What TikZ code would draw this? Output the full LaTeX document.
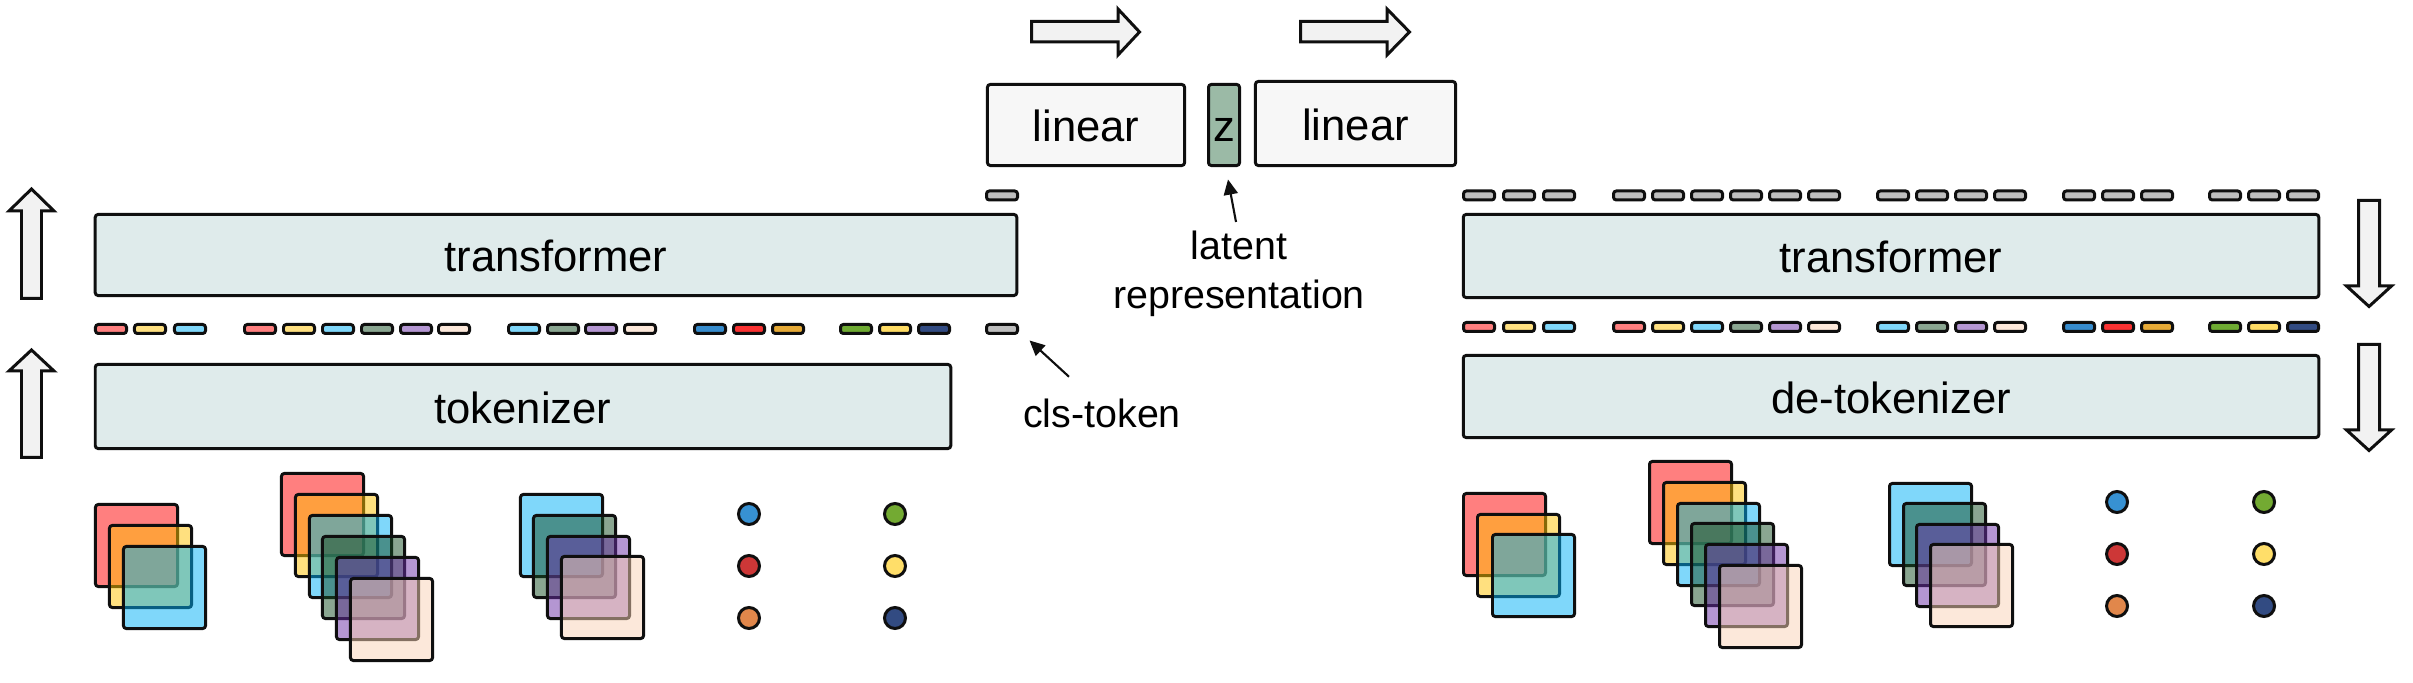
\documentclass[tikz,border=0pt]{standalone}
\usepackage{fontspec}
\setmainfont{Liberation Sans}
\usetikzlibrary{arrows.meta}
\definecolor{boxfill}{RGB}{223,235,235}
\definecolor{linfill}{RGB}{247,247,247}
\definecolor{arrfill}{RGB}{242,242,242}
\definecolor{zfill}{RGB}{155,186,166}
\definecolor{tGray}{RGB}{190,190,190}
\definecolor{tRed}{RGB}{255,127,127}
\definecolor{tYel}{RGB}{255,224,128}
\definecolor{tBlu}{RGB}{127,215,250}
\definecolor{tGrn}{RGB}{138,166,145}
\definecolor{tPur}{RGB}{180,150,210}
\definecolor{tPch}{RGB}{252,232,218}
\definecolor{tBlueB}{RGB}{55,140,205}
\definecolor{tRedB}{RGB}{250,50,50}
\definecolor{tOraB}{RGB}{230,170,55}
\definecolor{tGreenB}{RGB}{110,170,50}
\definecolor{tYelB}{RGB}{255,220,100}
\definecolor{tNavy}{RGB}{50,75,130}
\definecolor{cBlu}{RGB}{55,145,210}
\definecolor{cRed}{RGB}{205,55,55}
\definecolor{cOra}{RGB}{225,135,75}
\definecolor{cGrn}{RGB}{115,170,50}
\definecolor{cYel}{RGB}{255,222,105}
\definecolor{cNavy}{RGB}{50,75,130}
\definecolor{sRed}{RGB}{255,0,0}
\definecolor{sYel}{RGB}{255,193,0}
\definecolor{sBlu}{RGB}{0,175,245}
\definecolor{sGrn}{RGB}{21,77,35}
\definecolor{sPur}{RGB}{105,45,165}
\definecolor{sPch}{RGB}{249,209,181}
\definecolor{ink}{RGB}{15,15,15}
\begin{document}
\begin{tikzpicture}[x=0.01cm,y=-0.01cm,
  bigbox/.style={draw=ink,line width=0.85pt,rounded corners=0.8pt,fill=boxfill,
    inner sep=0pt,font=\fontsize{12.4}{14}\selectfont,text height=9.6pt,text depth=0pt},
  linbox/.style={bigbox,fill=linfill},
  tok/.style={draw=ink,line width=0.85pt,rounded corners=0.8pt,inner sep=0pt,
    minimum width=0.31cm,minimum height=0.09cm},
  sq/.style={draw=ink,line width=0.85pt,rounded corners=0.8pt,inner sep=0pt,
    minimum size=0.82cm,fill opacity=0.5},
  dot/.style={circle,draw=ink,line width=0.85pt,inner sep=0pt,minimum size=0.21cm},
  fatarrow/.style={draw=ink,line width=0.85pt,fill=arrfill,line join=miter},
  lab/.style={inner sep=0pt,font=\fontsize{11.2}{13.9}\selectfont,align=center},
  annot/.style={draw=ink,line width=0.6pt,-{Triangle[length=4.3pt,width=4pt]}}]
\useasboundingbox (0,0) rectangle (2413,683);

% ---------- big boxes ----------
\node[bigbox,minimum width=9.21cm,minimum height=0.81cm] (transL) at (556,255) {transformer};
\node[bigbox,minimum width=8.55cm,minimum height=0.84cm] (tokL) at (523,406.5) {tokenizer};
\node[linbox,minimum width=1.97cm,minimum height=0.81cm] (lin1) at (1086,125) {linear};
\node[bigbox,fill=zfill,minimum width=0.31cm,minimum height=0.81cm] (zbox) at (1224,125) {z};
\node[linbox,minimum width=2.00cm,minimum height=0.84cm] (lin2) at (1355.5,123.5) {linear};
\node[bigbox,minimum width=8.55cm,minimum height=0.83cm] (transR) at (1891,256) {transformer};
\node[bigbox,minimum width=8.55cm,minimum height=0.82cm] (detokR) at (1891,396.5) {de-tokenizer};

% ---------- fat arrows ----------
\draw[fatarrow] (21.5,298.5) -- (21.5,211) -- (9,211) -- (31.5,189) -- (54,211) -- (41.5,211) -- (41.5,298.5) -- cycle;
\draw[fatarrow] (21.5,457.5) -- (21.5,371) -- (9,371) -- (31.5,350) -- (54,371) -- (41.5,371) -- (41.5,457.5) -- cycle;
\draw[fatarrow] (1031.5,21.5) -- (1118,21.5) -- (1118,9) -- (1139.5,32) -- (1118,55) -- (1118,42) -- (1031.5,42) -- cycle;
\draw[fatarrow] (1300.5,21.5) -- (1387,21.5) -- (1387,9) -- (1409.5,32) -- (1387,55) -- (1387,42) -- (1300.5,42) -- cycle;
\draw[fatarrow] (2358.5,200.5) -- (2379.5,200.5) -- (2379.5,286) -- (2391.5,286) -- (2369,306.5) -- (2346.5,286) -- (2358.5,286) -- cycle;
\draw[fatarrow] (2358.5,344.5) -- (2379.5,344.5) -- (2379.5,430) -- (2391.5,430) -- (2369,450.5) -- (2346.5,430) -- (2358.5,430) -- cycle;

% ---------- tokens, left ----------
\foreach \x/\c [count=\i] in {94/tRed,133/tYel,173/tBlu,
  243/tRed,282/tYel,321/tBlu,360/tGrn,399/tPur,437/tPch,
  507/tBlu,546/tGrn,584/tPur,623/tPch,
  693/tBlueB,732/tRedB,771/tOraB,
  839/tGreenB,878/tYelB,917/tNavy}
  \node[tok,fill=\c] (la\i) at ({\x+17},329) {};
\node[tok,fill=tGray] (clstok) at (1002,329) {};
\node[tok,fill=tGray] (clsout) at (1002,195.5) {};

% ---------- tokens, right ----------
\foreach \x/\c [count=\i] in {1462/tRed,1502/tYel,1542/tBlu,
  1612/tRed,1651/tYel,1690/tBlu,1729/tGrn,1768/tPur,1807/tPch,
  1876/tBlu,1915/tGrn,1954/tPur,1993/tPch,
  2062/tBlueB,2101/tRedB,2140/tOraB,
  2208/tGreenB,2247/tYelB,2286/tNavy}
  {\node[tok,fill=tGray] (rg\i) at ({\x+17},195.5) {};
   \node[tok,fill=\c] (rc\i) at ({\x+17},327) {};}

% ---------- labels and pointers ----------
\node[lab,anchor=base] (clslab) at (1102,428) {cls-token};
\node[lab,anchor=north] (latlab) at (1239,230) {latent\\representation};
\draw[annot] ([shift={(-33,-22)}]clslab.north) -- ([shift={(10.5,5.5)}]clstok.south east);
\draw[annot] ([shift={(-3,-8)}]latlab.north) -- ([shift={(4,12.5)}]zbox.south);

% ---------- image stacks, left ----------
\foreach \x/\y/\c [count=\i] in {94/503/sRed,108/524/sYel,122/545/sBlu}
  \node[sq,fill=\c] (pa\i) at ({\x+42.5},{\y+42.5}) {};
\foreach \x/\y/\c [count=\i] in {280/472/sRed,294/493/sYel,308/514/sBlu,321/535/sGrn,335/556/sPur,349/577/sPch}
  \node[sq,fill=\c] (pb\i) at ({\x+42.5},{\y+42.5}) {};
\foreach \x/\y/\c [count=\i] in {519/493/sBlu,532/514/sGrn,546/535/sPur,560/555/sPch}
  \node[sq,fill=\c] (pc\i) at ({\x+42.5},{\y+42.5}) {};
\foreach \y/\c/\d [count=\i] in {514/cBlu/cGrn,566/cRed/cYel,618/cOra/cNavy}
  {\node[dot,fill=\c] (da\i) at (749,\y) {};
   \node[dot,fill=\d] (db\i) at (895,\y) {};}

% ---------- image stacks, right ----------
\foreach \x/\y/\c [count=\i] in {1462/492/sRed,1476/513/sYel,1491/533/sBlu}
  \node[sq,fill=\c] (qa\i) at ({\x+42.5},{\y+42.5}) {};
\foreach \x/\y/\c [count=\i] in {1648/460/sRed,1662/481/sYel,1676/502/sBlu,1690/522/sGrn,1704/543/sPur,1718/564/sPch}
  \node[sq,fill=\c] (qb\i) at ({\x+42.5},{\y+42.5}) {};
\foreach \x/\y/\c [count=\i] in {1888/482/sBlu,1902/502/sGrn,1915/523/sPur,1929/543/sPch}
  \node[sq,fill=\c] (qc\i) at ({\x+42.5},{\y+42.5}) {};
\foreach \y/\c/\d [count=\i] in {502/cBlu/cGrn,554/cRed/cYel,606/cOra/cNavy}
  {\node[dot,fill=\c] (ea\i) at (2117,\y) {};
   \node[dot,fill=\d] (eb\i) at (2264,\y) {};}
\end{tikzpicture}
\end{document}
